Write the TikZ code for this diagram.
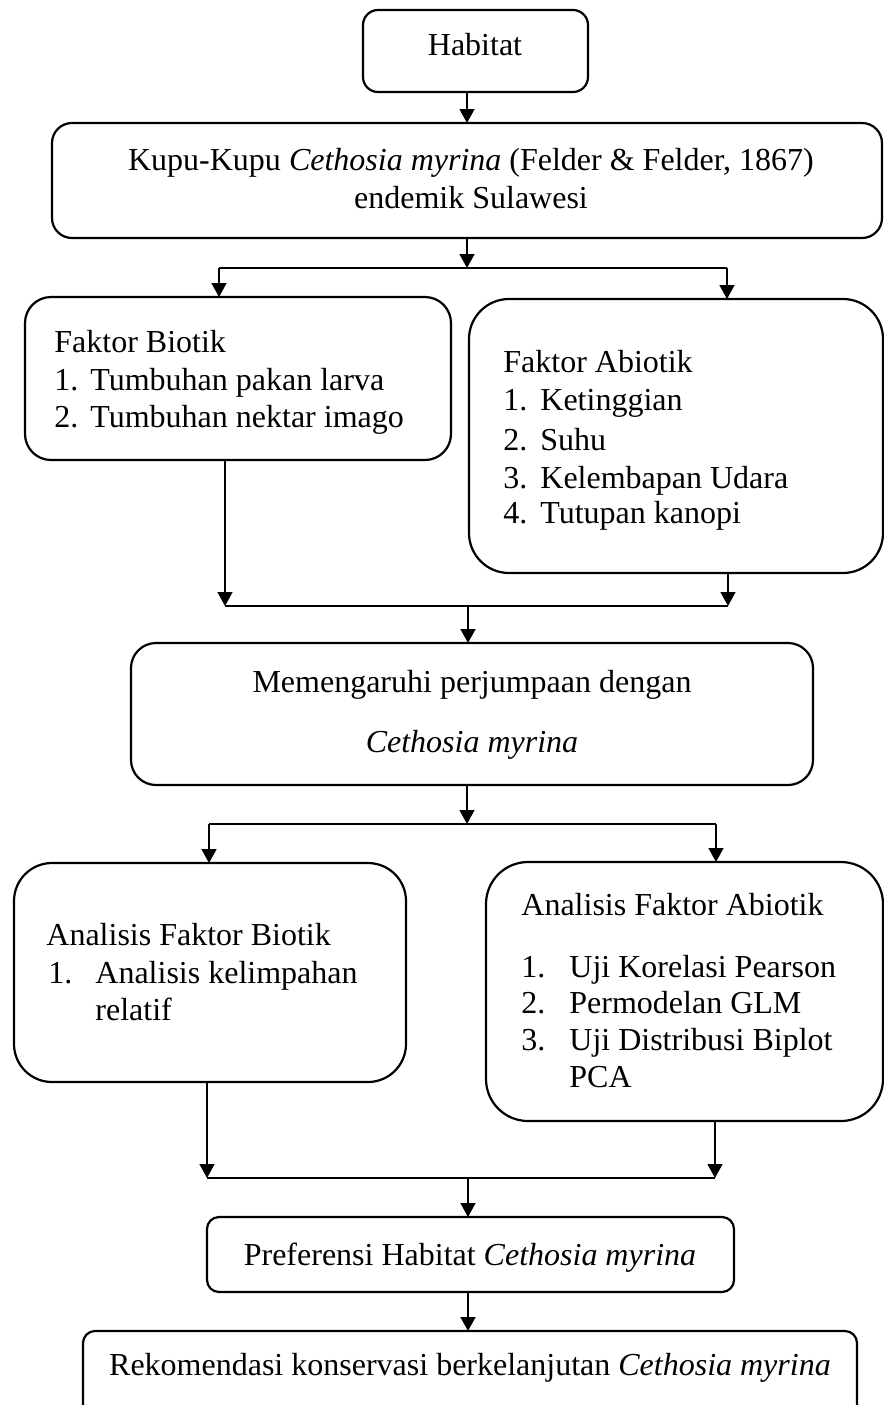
\documentclass[tikz,border=0pt]{standalone}
\usepackage{fontspec}
\setmainfont{Liberation Serif}
\usetikzlibrary{arrows.meta}
\begin{document}
\begin{tikzpicture}[x=0.5pt,y=-0.5pt,
  box/.style={draw=black,line width=1.1pt,inner sep=0pt,outer sep=0pt},
  line/.style={draw=black,line width=0.7pt},
  arr/.style={line,-{Triangle[length=7pt,width=7.5pt]}},
  txt/.style={inner sep=0pt,anchor=base west,font=\fontsize{16pt}{19pt}\selectfont},
  ctxt/.style={txt,anchor=base}]
\clip (0,0) rectangle (884,1405);
\fill[white] (0,0) rectangle (884,1405);
% boxes
\node[box,rounded corners=7.5pt,minimum width=112.5pt,minimum height=41pt] (hab) at (475.5,51) {};
\node[box,rounded corners=10pt,minimum width=415pt,minimum height=57.5pt] (kupu) at (467,180.5) {};
\node[box,rounded corners=13pt,minimum width=213pt,minimum height=81.5pt] (bio) at (238,378.5) {};
\node[box,rounded corners=20pt,minimum width=207pt,minimum height=137pt] (abio) at (676,436) {};
\node[box,rounded corners=12.5pt,minimum width=341pt,minimum height=71pt] (mem) at (472,714) {};
\node[box,rounded corners=19pt,minimum width=196pt,minimum height=109.5pt] (anbio) at (210,972.5) {};
\node[box,rounded corners=21pt,minimum width=198.5pt,minimum height=129.5pt] (anabio) at (684.5,991.5) {};
\node[box,rounded corners=6pt,minimum width=263.5pt,minimum height=37.5pt] (pref) at (470.5,1254.5) {};
\node[box,rounded corners=6pt,minimum width=387pt,minimum height=47pt] (rek) at (470,1378) {};
% texts
\node[ctxt] (thab) at (475,55) {Habitat};
\node[ctxt] (tkupu1) at (471,170) {Kupu-Kupu \textit{Cethosia myrina} (Felder \& Felder, 1867)};
\node[ctxt] (tkupu2) at (471,208) {endemik Sulawesi};
\node[txt] (tbio) at (54,352) {Faktor Biotik};
\node[txt] (tbio1n) at (54,390) {1.};
\node[txt] (tbio1) at (90,390) {Tumbuhan pakan larva};
\node[txt] (tbio2n) at (54,427) {2.};
\node[txt] (tbio2) at (90,427) {Tumbuhan nektar imago};
\node[txt] (tabio) at (503,372) {Faktor Abiotik};
\node[txt] (tabio1n) at (503,410) {1.};
\node[txt] (tabio1) at (540,410) {Ketinggian};
\node[txt] (tabio2n) at (503,450) {2.};
\node[txt] (tabio2) at (540,450) {Suhu};
\node[txt] (tabio3n) at (503,488) {3.};
\node[txt] (tabio3) at (540,488) {Kelembapan Udara};
\node[txt] (tabio4n) at (503,523) {4.};
\node[txt] (tabio4) at (540,523) {Tutupan kanopi};
\node[ctxt] (tmem1) at (472,692) {Memengaruhi perjumpaan dengan};
\node[ctxt] (tmem2) at (472,752) {\textit{Cethosia myrina}};
\node[txt] (tanbio) at (46,945) {Analisis Faktor Biotik};
\node[txt] (tanbio1n) at (48,983) {1.};
\node[txt] (tanbio1) at (95,983) {Analisis kelimpahan};
\node[txt] (tanbio1b) at (95,1020) {relatif};
\node[txt] (tanabio) at (521,915) {Analisis Faktor Abiotik};
\node[txt] (tanabio1n) at (521,977) {1.};
\node[txt] (tanabio1) at (569,977) {Uji Korelasi Pearson};
\node[txt] (tanabio2n) at (521,1013) {2.};
\node[txt] (tanabio2) at (569,1013) {Permodelan GLM};
\node[txt] (tanabio3n) at (521,1050) {3.};
\node[txt] (tanabio3) at (569,1050) {Uji Distribusi Biplot};
\node[txt] (tanabio3b) at (569,1087) {PCA};
\node[ctxt] (tpref) at (470,1265) {Preferensi Habitat \textit{Cethosia myrina}};
\node[ctxt] (trek) at (470,1375) {Rekomendasi konservasi berkelanjutan \textit{Cethosia myrina}};
% junction coordinates
\coordinate (j1) at (467,268);
\coordinate (j1l) at (219,268);
\coordinate (j1r) at (727,268);
\coordinate (j2) at (468,606);
\coordinate (j2l) at (225,606);
\coordinate (j2r) at (728,606);
\coordinate (j3) at (467,824);
\coordinate (j3l) at (209,824);
\coordinate (j3r) at (716,824);
\coordinate (j4) at (468,1178);
\coordinate (j4l) at (207,1178);
\coordinate (j4r) at (715,1178);
% connectors
\draw[arr] (kupu.north |- hab.south) -- (kupu.north);
\draw[arr] (kupu.south) -- (j1);
\draw[line] (j1l) -- (j1r);
\draw[arr] (j1l) -- (j1l |- bio.north);
\draw[arr] (j1r) -- (j1r |- abio.north);
\draw[arr] (bio.south -| j2l) -- (j2l);
\draw[arr] (abio.south -| j2r) -- (j2r);
\draw[line] (j2l) -- (j2r);
\draw[arr] (j2) -- (j2 |- mem.north);
\draw[arr] (mem.south -| j3) -- (j3);
\draw[line] (j3l) -- (j3r);
\draw[arr] (j3l) -- (j3l |- anbio.north);
\draw[arr] (j3r) -- (j3r |- anabio.north);
\draw[arr] (anbio.south -| j4l) -- (j4l);
\draw[arr] (anabio.south -| j4r) -- (j4r);
\draw[line] (j4l) -- (j4r);
\draw[arr] (j4) -- (j4 |- pref.north);
\draw[arr] (pref.south -| j4) -- (j4 |- rek.north);
\end{tikzpicture}
\end{document}
